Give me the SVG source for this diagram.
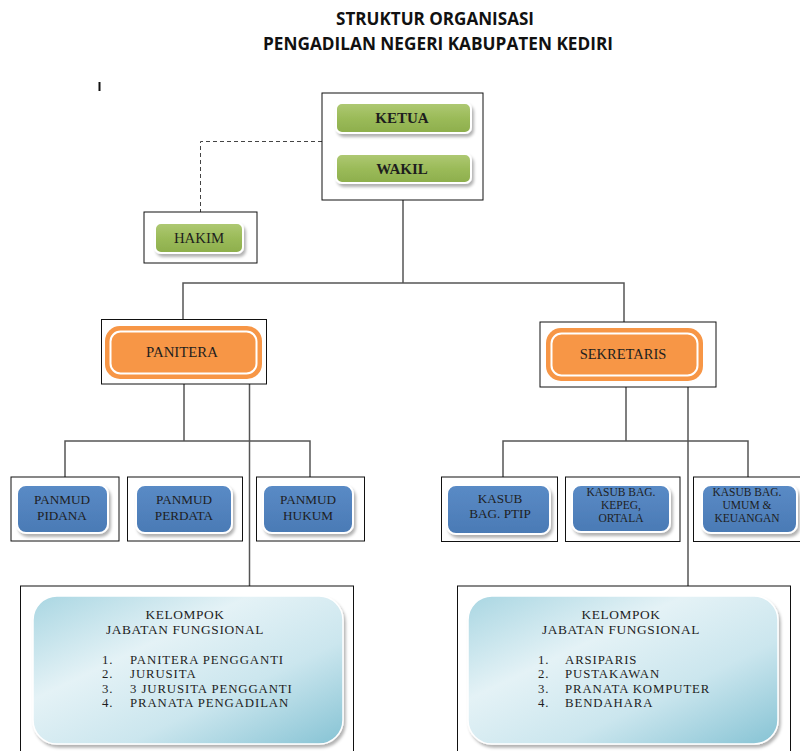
<svg xmlns="http://www.w3.org/2000/svg" width="800" height="751" viewBox="0 0 800 751">
<defs>
<linearGradient id="gGreen" x1="0" y1="0" x2="0" y2="1">
<stop offset="0" stop-color="#AFC974"/><stop offset="0.5" stop-color="#9BBB59"/><stop offset="1" stop-color="#8DAE4C"/>
</linearGradient>
<linearGradient id="gBlue" x1="0" y1="0" x2="0" y2="1">
<stop offset="0" stop-color="#5A8BC6"/><stop offset="1" stop-color="#4A7AB5"/>
</linearGradient>
<linearGradient id="gKel" x1="0" y1="0" x2="1" y2="1">
<stop offset="0" stop-color="#A9D6E2"/><stop offset="0.35" stop-color="#E4F2F6"/><stop offset="0.65" stop-color="#CBE6EE"/><stop offset="1" stop-color="#86C3D4"/>
</linearGradient>
<filter id="sh" x="-10%" y="-10%" width="125%" height="135%">
<feDropShadow dx="2" dy="3" stdDeviation="1.5" flood-color="#000" flood-opacity="0.3"/>
</filter>
</defs>
<style>
.frame{fill:#fff;stroke:#111;stroke-width:1}
.green{fill:url(#gGreen);stroke:#fff;stroke-width:2;filter:url(#sh)}
.orange{fill:#F79646;stroke:none}
.ring{fill:none;stroke:#fff;stroke-width:2}
.blue{fill:url(#gBlue);stroke:#fff;stroke-width:2;filter:url(#sh)}
.kel{fill:url(#gKel);stroke:#fff;stroke-width:1.5;filter:url(#sh)}
.t{font-family:"Liberation Serif","Times New Roman",serif;fill:#1e1e1e;text-anchor:middle}
.tb{font-weight:bold;font-size:15px}
.tn{font-size:14.8px}
.tm{font-size:13.2px}
.ts{font-size:11.5px}
.tk{font-size:14.5px}
.th{font-size:13.4px;letter-spacing:0.6px}
.tl{font-family:"Liberation Serif","Times New Roman",serif;fill:#1e1e1e;font-size:12.8px;letter-spacing:0.9px}
.title{font-family:"Open Sans","Liberation Sans",sans-serif;font-weight:700;font-size:17px;fill:#111;text-anchor:middle}
.con{stroke:#555;stroke-width:1.5;fill:none}
.dash{stroke:#444;stroke-width:1;fill:none;stroke-dasharray:4,3}
</style>
<rect width="800" height="751" fill="#fff"/>

<g id="title">
<text class="title" x="435" y="25" textLength="198" lengthAdjust="spacingAndGlyphs">STRUKTUR ORGANISASI</text>
<text class="title" x="438" y="50" textLength="350" lengthAdjust="spacingAndGlyphs">PENGADILAN NEGERI KABUPATEN KEDIRI</text>
</g>
<line x1="99.5" y1="82" x2="99.5" y2="91" stroke="#111" stroke-width="2"/>

<g id="connectors">
<path class="dash" d="M322,141.5 H200.5 V212"/>
<path class="con" d="M403,200 V283 M183,322 V283 H624 V322"/>
<path class="con" d="M184,384 V441 M65,477 V441 H310 V477"/>
<path class="con" d="M626,387 V441 M503,477 V441 H748 V477"/>
<path class="con" d="M249.5,384 V586"/>
<path class="con" d="M688,387 V586"/>
</g>

<g id="ketua-wakil">
<rect class="frame" x="322" y="93" width="161" height="107"/>
<g id="ketua">
<rect class="green" x="336" y="103" width="135" height="30" rx="6"/>
<text class="t tb" x="402" y="123">KETUA</text>
</g>
<g id="wakil">
<rect class="green" x="336" y="154" width="135" height="29" rx="6"/>
<text class="t tb" x="402" y="174">WAKIL</text>
</g>
</g>

<g id="hakim">
<rect class="frame" x="144" y="212" width="113" height="51"/>
<rect class="green" x="155" y="223" width="88" height="30" rx="6"/>
<text class="t tn" x="199" y="243">HAKIM</text>
</g>

<g id="panitera">
<rect class="frame" x="101.5" y="319.5" width="165" height="64.5"/>
<rect class="orange" x="105" y="326" width="157" height="53" rx="15"/>
<rect class="ring" x="110.5" y="331.5" width="146" height="42" rx="10"/>
<text class="t tn" x="182" y="357">PANITERA</text>
</g>

<g id="sekretaris">
<rect class="frame" x="540" y="322" width="176" height="65"/>
<rect class="orange" x="546" y="328" width="157" height="53" rx="15"/>
<rect class="ring" x="551.5" y="333.5" width="146" height="42" rx="10"/>
<text class="t tk" x="623" y="359">SEKRETARIS</text>
</g>

<g id="panmud-pidana">
<rect class="frame" x="11" y="477" width="108" height="64"/>
<rect class="blue" x="17" y="485" width="91" height="48" rx="9"/>
<text class="t tm" x="62" y="504">PANMUD</text>
<text class="t tm" x="62" y="520">PIDANA</text>
</g>
<g id="panmud-perdata">
<rect class="frame" x="127.5" y="477" width="115" height="64"/>
<rect class="blue" x="136" y="485" width="96" height="48" rx="9"/>
<text class="t tm" x="184" y="504">PANMUD</text>
<text class="t tm" x="184" y="520">PERDATA</text>
</g>
<g id="panmud-hukum">
<rect class="frame" x="256.5" y="477" width="108" height="64"/>
<rect class="blue" x="263" y="485" width="90" height="48" rx="9"/>
<text class="t tm" x="308" y="504">PANMUD</text>
<text class="t tm" x="308" y="520">HUKUM</text>
</g>

<g id="kasub-ptip">
<rect class="frame" x="441.5" y="477" width="116" height="64.5"/>
<rect class="blue" x="447" y="485" width="103" height="49" rx="9"/>
<text class="t tm" x="500" y="503">KASUB</text>
<text class="t tm" x="500" y="518">BAG. PTIP</text>
</g>
<g id="kasub-kepeg">
<rect class="frame" x="565.5" y="477" width="114.5" height="64.5"/>
<rect class="blue" x="572" y="485" width="98" height="47" rx="9"/>
<text class="t ts" x="621" y="496">KASUB BAG.</text>
<text class="t ts" x="621" y="509">KEPEG,</text>
<text class="t ts" x="621" y="522">ORTALA</text>
</g>
<g id="kasub-umum">
<rect class="frame" x="693.5" y="477" width="107" height="64.5"/>
<rect class="blue" x="702" y="485" width="95" height="48" rx="9"/>
<text class="t ts" x="747" y="496">KASUB BAG.</text>
<text class="t ts" x="747" y="509">UMUM &amp;</text>
<text class="t ts" x="747" y="522">KEUANGAN</text>
</g>

<g id="kelompok-panitera">
<rect class="frame" x="20.5" y="586" width="333" height="170"/>
<rect class="kel" x="33" y="596" width="310" height="148" rx="24"/>
<text class="t th" x="185" y="619">KELOMPOK</text>
<text class="t th" x="185" y="634">JABATAN FUNGSIONAL</text>
<text class="tl" x="102" y="664">1.</text><text class="tl" x="130" y="664">PANITERA PENGGANTI</text>
<text class="tl" x="102" y="678">2.</text><text class="tl" x="130" y="678">JURUSITA</text>
<text class="tl" x="102" y="693">3.</text><text class="tl" x="130" y="693">3 JURUSITA PENGGANTI</text>
<text class="tl" x="102" y="707">4.</text><text class="tl" x="130" y="707">PRANATA PENGADILAN</text>
</g>

<g id="kelompok-sekretaris">
<rect class="frame" x="457.5" y="586" width="333" height="170"/>
<rect class="kel" x="468" y="596" width="310" height="148" rx="24"/>
<text class="t th" x="621" y="619">KELOMPOK</text>
<text class="t th" x="621" y="634">JABATAN FUNGSIONAL</text>
<text class="tl" x="538" y="664">1.</text><text class="tl" x="565" y="664">ARSIPARIS</text>
<text class="tl" x="538" y="678">2.</text><text class="tl" x="565" y="678">PUSTAKAWAN</text>
<text class="tl" x="538" y="693">3.</text><text class="tl" x="565" y="693">PRANATA KOMPUTER</text>
<text class="tl" x="538" y="707">4.</text><text class="tl" x="565" y="707">BENDAHARA</text>
</g>
</svg>
